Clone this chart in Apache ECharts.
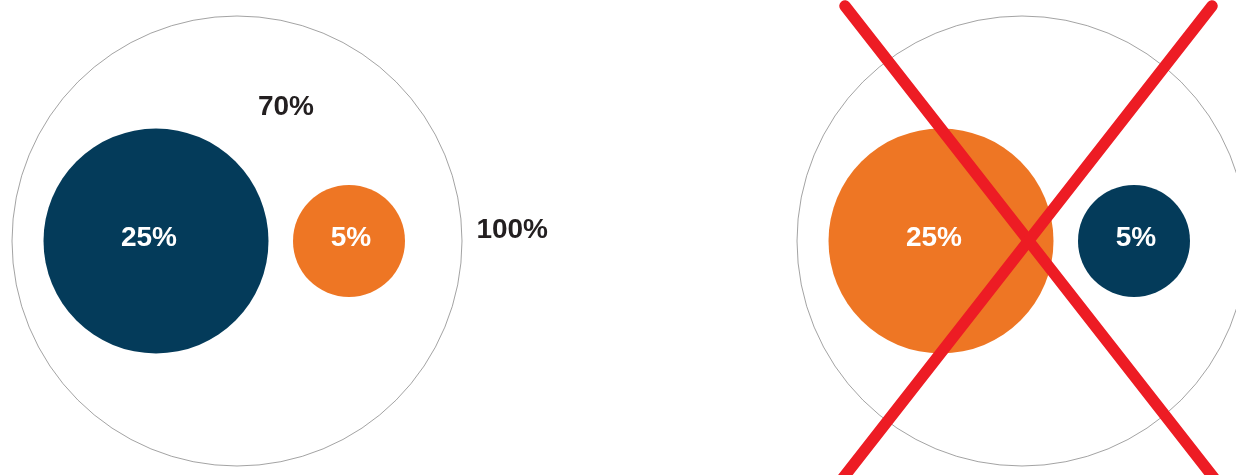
<!DOCTYPE html>
<html>
<head>
<meta charset="utf-8">
<script src="https://cdn.jsdelivr.net/npm/echarts@6/dist/echarts.min.js"></script>
<style>
html,body{margin:0;padding:0;background:#fff}
#Chart{width:1236px;height:475px}
</style>
</head>
<body>
<div id="Chart"></div>
<script>
// data
var totalValue = 100
var totalLabel = '100%'
var shareValues = [25, 5]
var shareLabels = ['25%', '5%']
var restValue = 70
var restLabel = '70%'

// colours: left panel right, right panel swapped (crossed out)
var blue = '#043b5a', orange = '#ee7624'
var leftColors = [blue, orange]
var rightColors = [orange, blue]

// layout (axis units = px)
var panelX = [237, 1022], panelY = 241
var innerOffset = [-81, 112]
var labelOffset = [[-7, -3], [2, -3]]
var fontSize = 28

// bubble diameter, with a minimum size for small shares
function diameter(v){
    return Math.max(112, 45 * Math.sqrt(v))
}

function panelSeries(cx, colors, showTotal){
    var outer = {
        type: 'scatter',
        silent: true,
        clip: false,
        z: 1,
        symbol: 'circle',
        symbolSize: function(val){ return diameter(val[2]) },
        itemStyle: { color: 'rgba(255,255,255,0)', borderColor: '#8c8c8c', borderWidth: 0.8, opacity: 1 },
        label: {
            show: showTotal,
            position: 'right',
            distance: 14,
            offset: [0, -11],
            formatter: totalLabel,
            color: '#231f20',
            fontFamily: 'Liberation Sans',
            fontWeight: 'bold',
            fontSize: fontSize
        },
        data: [[cx, panelY, totalValue]]
    }
    var inner = {
        type: 'scatter',
        silent: true,
        clip: false,
        z: 2,
        symbol: 'circle',
        symbolSize: function(val){ return diameter(val[2]) },
        data: shareValues.map(function(v, i){
            return {
                value: [cx + innerOffset[i], panelY, v],
                itemStyle: { color: colors[i], opacity: 1 },
                label: {
                    show: true,
                    position: 'inside',
                    offset: labelOffset[i],
                    formatter: shareLabels[i],
                    color: '#fff',
                    fontFamily: 'Liberation Sans',
                    fontWeight: 'bold',
                    fontSize: fontSize
                }
            }
        })
    }
    return [outer, inner]
}

function drawChar(){
    var myChart = echarts.init(document.getElementById('Chart'))
    var series = []
    series = series.concat(panelSeries(panelX[0], leftColors, true))
    series = series.concat(panelSeries(panelX[1], rightColors, false))

    // label for the remaining share
    series.push({
        type: 'scatter',
        silent: true,
        symbolSize: 1,
        itemStyle: { color: 'rgba(0,0,0,0)', opacity: 1 },
        label: {
            show: true,
            position: 'inside',
            offset: [0, 2],
            formatter: restLabel,
            color: '#231f20',
            fontFamily: 'Liberation Sans',
            fontWeight: 'bold',
            fontSize: fontSize
        },
        data: [[286, 105, restValue]]
    })

    // red cross over the wrong version
    series.push({
        type: 'lines',
        coordinateSystem: 'cartesian2d',
        silent: true,
        clip: false,
        z: 10,
        zlevel: 1,
        lineStyle: { color: '#ed1c24', width: 11.5, cap: 'round', opacity: 1 },
        data: [
            { coords: [[845, 6], [1214, 478]] },
            { coords: [[1212, 6], [843, 478]] }
        ]
    })

    var option = {
        animation: false,
        grid: { left: 0, right: 0, top: 0, bottom: 0 },
        xAxis: { type: 'value', min: 0, max: 1236, show: false },
        yAxis: { type: 'value', min: 0, max: 475, inverse: true, show: false },
        series: series
    }
    myChart.setOption(option)
}

drawChar()
</script>
</body>
</html>
